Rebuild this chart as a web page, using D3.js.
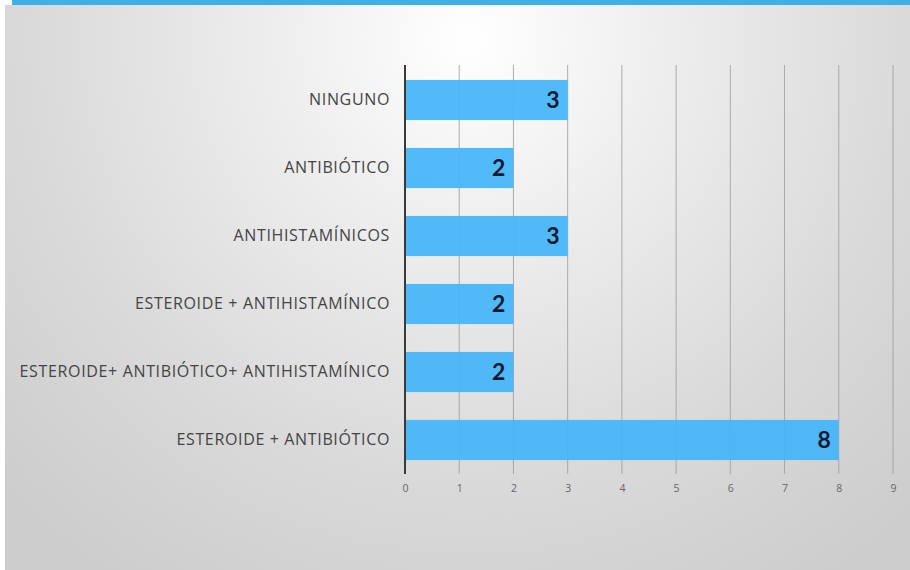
<!DOCTYPE html>
<html>
<head>
<meta charset="utf-8">
<script src="https://cdn.jsdelivr.net/npm/d3@7/dist/d3.min.js"></script>
<style>
  html, body { margin: 0; padding: 0; background: #ffffff; }
  svg { display: block; }
</style>
</head>
<body>
<script>
// Treatments received and number of patients for each
const categories = [
  "NINGUNO",
  "ANTIBIÓTICO",
  "ANTIHISTAMÍNICOS",
  "ESTEROIDE + ANTIHISTAMÍNICO",
  "ESTEROIDE+ ANTIBIÓTICO+ ANTIHISTAMÍNICO",
  "ESTEROIDE + ANTIBIÓTICO"
];
const patients = [3, 2, 3, 2, 2, 8];
const tickValues = [0, 1, 2, 3, 4, 5, 6, 7, 8, 9];

const W = 910, H = 570;
const svg = d3.select("body").append("svg").attr("width", W).attr("height", H);
const defs = svg.append("defs");

// Slide background: light centre fading to grey at the edges
const bg = defs.append("radialGradient")
  .attr("id", "bgGrad")
  .attr("gradientUnits", "userSpaceOnUse")
  .attr("cx", 470).attr("cy", 40).attr("r", 640);
bg.append("stop").attr("offset", "0").attr("stop-color", "#ffffff");
bg.append("stop").attr("offset", "0.3").attr("stop-color", "#eeeeee");
bg.append("stop").attr("offset", "0.7").attr("stop-color", "#d9d9d9");
bg.append("stop").attr("offset", "1").attr("stop-color", "#cdcdcd");

svg.append("rect").attr("x", 5).attr("y", 5).attr("width", W - 5).attr("height", H - 5)
  .attr("fill", "url(#bgGrad)");

// Accent strip along the top
svg.append("rect").attr("x", 12).attr("y", 0).attr("width", W - 12).attr("height", 5)
  .attr("fill", "#3eafe8");

const x = d3.scaleLinear().domain([0, 9]).range([405, 893]);
const y = d3.scaleBand().domain(categories).range([66, 474])
  .paddingInner(0.41).paddingOuter(0.205);

const gridTop = 65, gridBottom = 474;

// Vertical gridlines
svg.append("g")
  .selectAll("line")
  .data(tickValues.slice(1))
  .join("line")
  .attr("x1", d => x(d)).attr("x2", d => x(d))
  .attr("y1", gridTop).attr("y2", gridBottom)
  .attr("stroke", "#9a9a9a").attr("stroke-width", 0.8);

// Bars
svg.append("g")
  .selectAll("rect")
  .data(categories)
  .join("rect")
  .attr("x", x(0))
  .attr("y", d => y(d))
  .attr("width", (d, i) => x(patients[i]) - x(0))
  .attr("height", y.bandwidth())
  .attr("fill", "#43b6f7")
  .attr("fill-opacity", 0.93);

// Value axis tick labels
const xAxis = d3.axisBottom(x).tickValues(tickValues).tickSize(0).tickPadding(0);
const gx = svg.append("g").attr("transform", `translate(0,${gridBottom})`).call(xAxis);
gx.select(".domain").remove();
gx.selectAll("text")
  .attr("dy", "1.7em")
  .attr("fill", "#666666")
  .style("font-family", "'Open Sans', sans-serif")
  .style("font-size", "10.5px");

// Category axis line
svg.append("line")
  .attr("x1", x(0)).attr("x2", x(0))
  .attr("y1", gridTop).attr("y2", gridBottom)
  .attr("stroke", "#3a3a3a").attr("stroke-width", 2);

// Category labels
const yAxis = d3.axisLeft(y).tickSize(0).tickPadding(15);
const gy = svg.append("g").attr("transform", `translate(${x(0)},0)`).call(yAxis);
gy.select(".domain").remove();
gy.selectAll("text")
  .attr("fill", "#444444")
  .style("font-family", "'Open Sans', sans-serif")
  .style("font-size", "16px")
  .style("letter-spacing", "0.65px");

// Value labels at the end of each bar
svg.append("g")
  .selectAll("text")
  .data(categories)
  .join("text")
  .attr("x", (d, i) => x(patients[i]) - 8)
  .attr("y", d => y(d) + y.bandwidth() / 2 + 8)
  .attr("text-anchor", "end")
  .attr("fill", "#0f1a33")
  .style("font-family", "Lato, sans-serif")
  .style("font-weight", "bold")
  .style("font-size", "23px")
  .text((d, i) => patients[i]);
</script>
</body>
</html>
